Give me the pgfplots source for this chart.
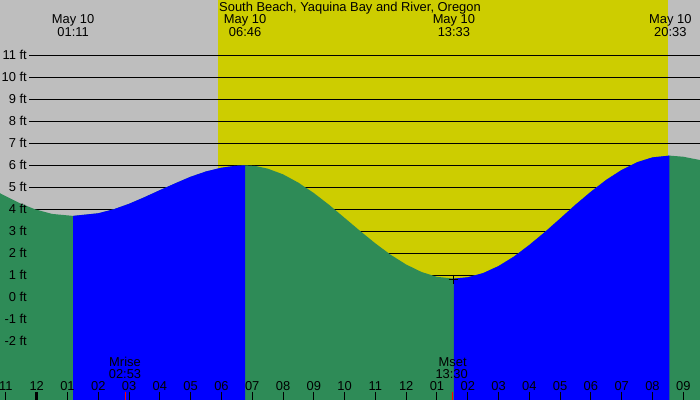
\documentclass[border=0pt]{standalone}
\usepackage{fontspec}
\setmainfont{Liberation Sans}
\usepackage{pgfplots}
\pgfplotsset{compat=1.18}
\definecolor{nightgray}{RGB}{190,190,190}
\definecolor{dayyellow}{RGB}{205,205,0}
\definecolor{ebbgreen}{RGB}{46,139,87}
\definecolor{floodblue}{RGB}{0,0,255}

\begin{document}
\begin{tikzpicture}[font=\fontsize{12.9bp}{14bp}\selectfont]
  \begin{axis}[
    width=700bp, height=400bp, scale only axis,
    xmin=-1.192, xmax=21.543,
    ymin=-4.668, ymax=13.514,
    hide axis,
  ]
    % night / day background
    \addplot[draw=none, fill=nightgray] coordinates {(-1.3,-5) (21.7,-5) (21.7,14) (-1.3,14)} -- cycle;
    \addplot[draw=none, fill=dayyellow] coordinates {(5.888,-5) (20.494,-5) (20.494,14) (5.888,14)} -- cycle;

    % horizontal level lines
    \pgfplotsinvokeforeach{-2,...,11}{
      \draw[black, line width=0.8bp] (axis cs:-0.25,#1) -- (axis cs:21.7,#1);
    }

    % tide curve, falling parts (green) under the whole range
    \addplot[draw=none, fill=ebbgreen] coordinates {
      (-1.3,-5)
      (-1.3,4.80) (-1.192,4.73) (-0.6,4.31) (-0.055,4.00) (0.5,3.79) (1.183,3.70)
      (2.0,3.82) (2.5,4.00) (3.0,4.25) (3.5,4.55) (4.0,4.87) (4.5,5.18)
      (5.0,5.48) (5.5,5.72) (6.0,5.89) (6.4,5.97) (6.767,6.00)
      (7.1,5.97) (7.5,5.85) (8.0,5.59) (8.5,5.21) (9.0,4.74) (9.5,4.20)
      (10.0,3.61) (10.5,3.02) (11.0,2.45) (11.5,1.93) (12.0,1.49) (12.5,1.15)
      (13.0,0.93) (13.55,0.85)
      (14.0,0.91) (14.5,1.10) (15.0,1.42) (15.5,1.85) (16.0,2.38) (16.5,2.96)
      (17.0,3.58) (17.5,4.21) (18.0,4.80) (18.5,5.34) (19.0,5.79) (19.5,6.14)
      (20.0,6.36) (20.55,6.44)
      (21.0,6.39) (21.54,6.24) (21.7,6.19)
      (21.7,-5)
    } -- cycle;

    % rising parts (blue)
    \addplot[draw=none, fill=floodblue] coordinates {
      (1.183,-5)
      (1.183,3.70) (2.0,3.82) (2.5,4.00) (3.0,4.25) (3.5,4.55) (4.0,4.87)
      (4.5,5.18) (5.0,5.48) (5.5,5.72) (6.0,5.89) (6.4,5.97) (6.767,6.00)
      (6.767,-5)
    } -- cycle;
    \addplot[draw=none, fill=floodblue] coordinates {
      (13.55,-5)
      (13.55,0.85) (14.0,0.91) (14.5,1.10) (15.0,1.42) (15.5,1.85) (16.0,2.38)
      (16.5,2.96) (17.0,3.58) (17.5,4.21) (18.0,4.80) (18.5,5.34) (19.0,5.79)
      (19.5,6.14) (20.0,6.36) (20.55,6.44)
      (20.55,-5)
    } -- cycle;

    % current-time cross
    \addplot[only marks, mark=+, mark size=4.5bp, black, line width=1bp] coordinates {(13.53,0.82)};

    % level labels
    \foreach \k in {-2,...,11}{
      \pgfmathsetmacro{\yb}{\k-0.21}
      \edef\tmp{\noexpand\node[anchor=base east, inner sep=0pt] at (axis cs:-0.315,\yb) {\k\noexpand\space ft};}
      \tmp
    }

    % hour ticks and labels
    \foreach \h/\l in {-1/11,0/12,1/01,2/02,3/03,4/04,5/05,6/06,7/07,8/08,9/09,10/10,
                       11/11,12/12,13/01,14/02,15/03,16/04,17/05,18/06,19/07,20/08,21/09}{
      \edef\tmp{\noexpand\node[anchor=base, inner sep=0pt] at (axis cs:\h,-4.214) {\l};
        \noexpand\draw[black, line width=1bp] (axis cs:\h,-4.30) -- (axis cs:\h,-4.75);}
      \tmp
    }
    \draw[black, line width=3bp] (axis cs:0,-4.30) -- (axis cs:0,-4.75);

    % moon rise / set
    \draw[red, line width=1bp] (axis cs:2.883,-4.30) -- (axis cs:2.883,-4.75);
    \draw[red, line width=1bp] (axis cs:13.5,-4.30) -- (axis cs:13.5,-4.75);
    \node[anchor=base, inner sep=0pt] at (axis cs:2.868,-3.123) {Mrise};
    \node[anchor=base, inner sep=0pt] at (axis cs:2.868,-3.682) {02:53};
    \node[anchor=base, inner sep=0pt] at (axis cs:13.51,-3.123) {Mset};
    \node[anchor=base, inner sep=0pt] at (axis cs:13.478,-3.682) {13:30};

    % title and tide times
    \node[anchor=base, inner sep=0pt] at (axis cs:10.175,12.982) {South Beach, Yaquina Bay and River, Oregon};
    \node[anchor=base, inner sep=0pt] at (axis cs:1.183,12.423) {May 10};
    \node[anchor=base, inner sep=0pt] at (axis cs:1.183,11.877) {01:11};
    \node[anchor=base, inner sep=0pt] at (axis cs:6.767,12.423) {May 10};
    \node[anchor=base, inner sep=0pt] at (axis cs:6.767,11.877) {06:46};
    \node[anchor=base, inner sep=0pt] at (axis cs:13.55,12.423) {May 10};
    \node[anchor=base, inner sep=0pt] at (axis cs:13.55,11.877) {13:33};
    \node[anchor=base, inner sep=0pt] at (axis cs:20.58,12.423) {May 10};
    \node[anchor=base, inner sep=0pt] at (axis cs:20.58,11.877) {20:33};
  \end{axis}
  \pgfresetboundingbox
  \path[use as bounding box] (current axis.south west) rectangle (current axis.north east);
\end{tikzpicture}
\end{document}
